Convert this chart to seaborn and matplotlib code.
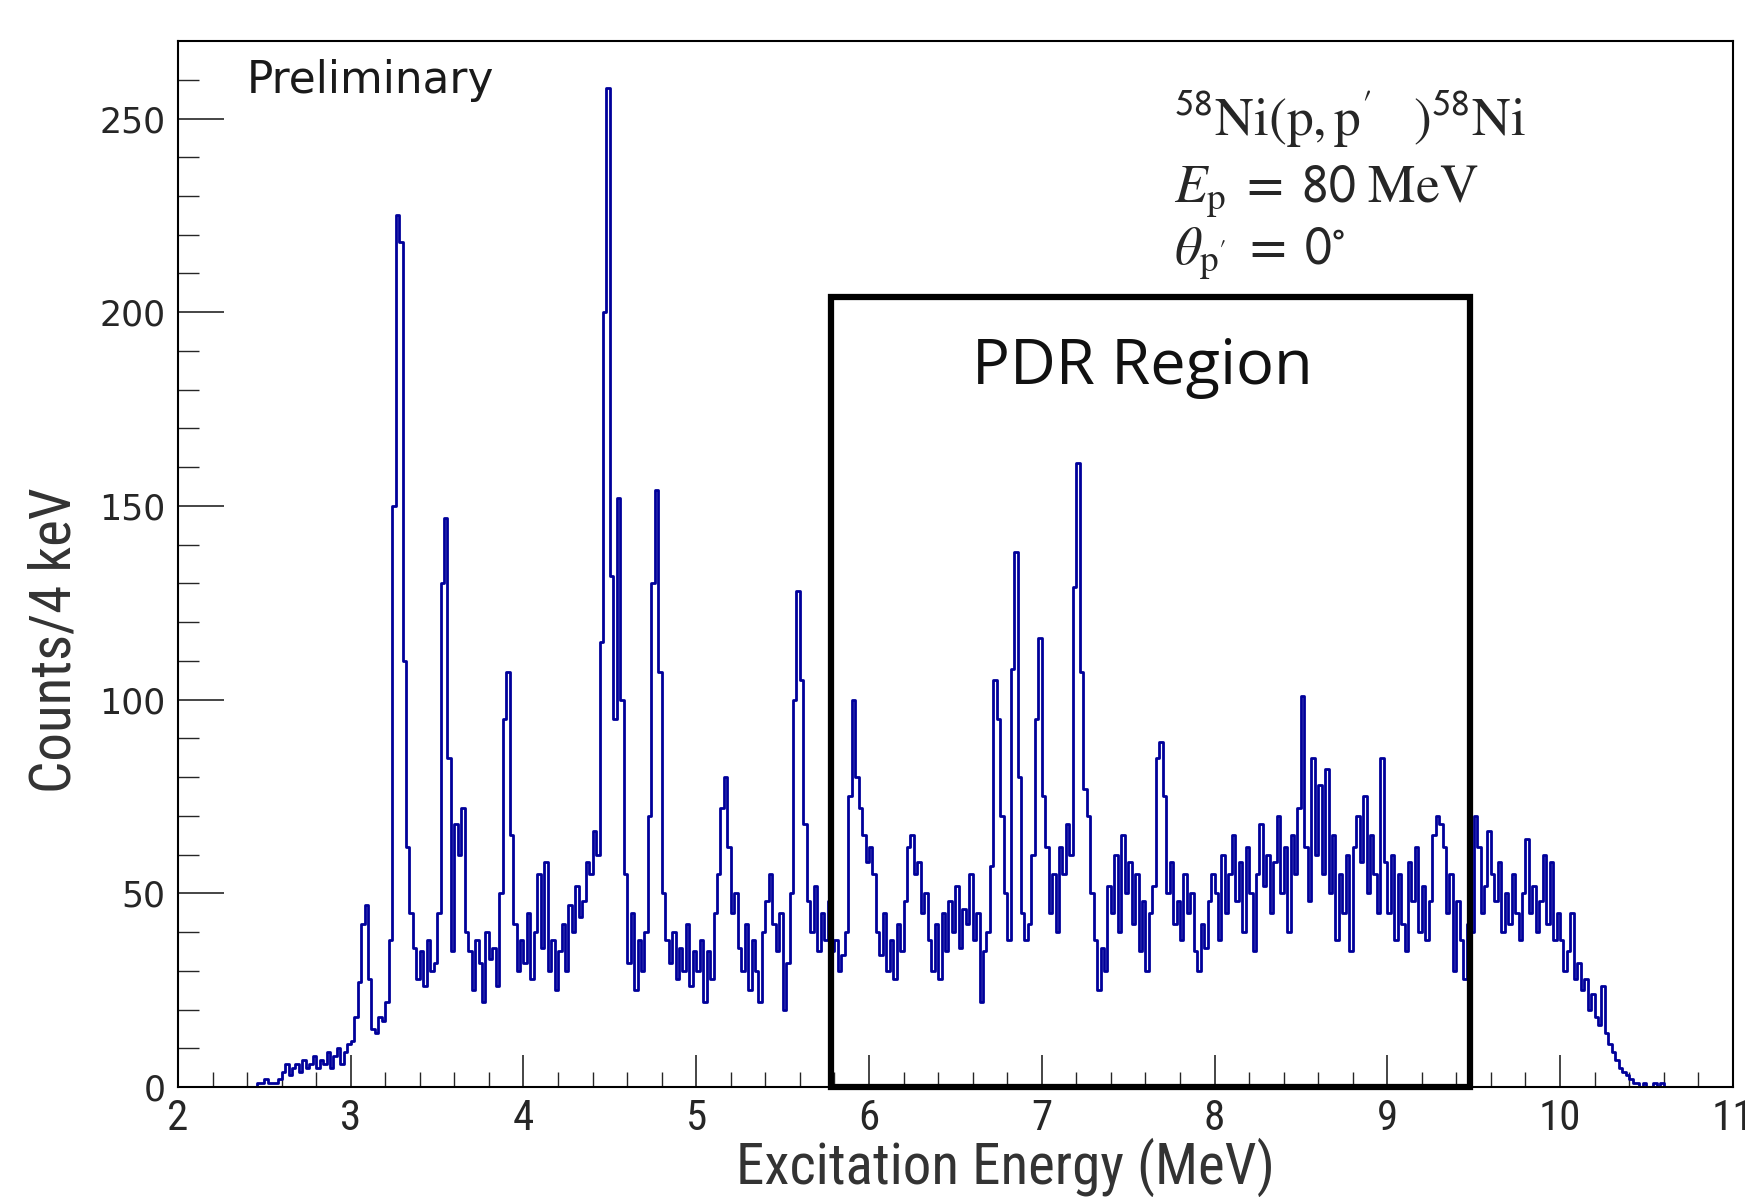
import numpy as np
import pandas as pd
import matplotlib
matplotlib.use("Agg")
import matplotlib.pyplot as plt
import seaborn as sns
from matplotlib import font_manager
from matplotlib.patches import Rectangle

# ---------------- data (counts per bin, 20 keV wide bins from 2.00 MeV) ----------------
counts_2 = [0]*22 + [0, 1, 1, 2, 1, 1, 1, 2,
            4, 6, 3, 5, 6, 4, 7, 5, 6, 8, 5, 7, 6, 9, 5, 8, 10, 6, 9, 11]
counts_3 = [12, 18, 27, 42, 47, 28, 15, 14, 18, 17,
            22, 38, 150, 225, 218, 110, 62, 45, 36, 28,
            35, 26, 38, 30, 32, 45, 130, 147, 85, 35,
            68, 60, 72, 40, 35, 25, 38, 32, 22, 40,
            33, 36, 26, 50, 95, 107, 65, 42, 30, 38]
counts_4 = [32, 45, 28, 40, 55, 36, 58, 30, 38, 25,
            35, 42, 30, 47, 40, 52, 44, 48, 58, 55,
            66, 60, 115, 200, 258, 132, 95, 152, 100, 55,
            32, 45, 25, 38, 30, 40, 70, 130, 154, 107,
            50, 38, 32, 40, 28, 36, 30, 42, 26, 35]
counts_5 = [30, 38, 22, 35, 28, 45, 55, 72, 80, 62,
            45, 50, 36, 30, 42, 25, 38, 30, 22, 40,
            48, 55, 42, 35, 45, 20, 32, 50, 100, 128,
            105, 68, 48, 40, 52, 35, 45, 38, 48, 35,
            38, 30, 34, 40, 75, 100, 80, 72, 65, 58]
counts_6 = [62, 55, 40, 34, 45, 30, 38, 28, 42, 35,
            48, 62, 65, 55, 58, 45, 50, 38, 30, 42,
            28, 45, 35, 48, 40, 52, 36, 46, 42, 55,
            38, 45, 22, 35, 40, 57, 105, 95, 70, 50,
            38, 108, 138, 80, 45, 38, 42, 60, 95, 116]
counts_7 = [75, 62, 45, 55, 40, 62, 55, 68, 60, 129,
            161, 107, 77, 70, 50, 38, 25, 36, 30, 52,
            45, 60, 40, 65, 50, 58, 42, 55, 35, 48,
            30, 45, 52, 85, 89, 75, 50, 58, 42, 48,
            38, 55, 45, 50, 35, 30, 42, 36, 48, 55]
counts_8 = [50, 38, 60, 45, 55, 65, 48, 58, 40, 62,
            50, 35, 55, 68, 52, 60, 45, 58, 70, 50,
            62, 40, 65, 55, 72, 101, 62, 48, 85, 60,
            78, 55, 82, 50, 65, 38, 55, 45, 60, 35,
            62, 70, 58, 75, 50, 65, 55, 45, 85, 58]
counts_9 = [45, 60, 38, 55, 42, 35, 58, 48, 62, 40,
            52, 38, 48, 65, 70, 68, 62, 45, 55, 30,
            48, 38, 28, 42, 40, 70, 62, 45, 52, 66,
            55, 48, 58, 40, 50, 42, 55, 45, 38, 50,
            64, 45, 52, 40, 48, 60, 42, 58, 38, 45]
counts_10 = [38, 30, 35, 45, 28, 32, 25, 28, 20, 24,
             18, 16, 26, 14, 11, 9, 7, 5, 4, 3,
             2, 1, 1, 0, 1, 0, 0, 1, 0, 1] + [0]*20

x_ticks = [2, 3, 4, 5, 6, 7, 8, 9, 10, 11]
y_ticks = [0, 50, 100, 150, 200, 250]
pdr_region = [5.78, 9.48]   # MeV
pdr_height = 204            # counts

x_label = "Excitation Energy (MeV)"
y_label = "Counts/4 keV"

# ---------------- build table ----------------
counts = np.array(counts_2 + counts_3 + counts_4 + counts_5 + counts_6 +
                  counts_7 + counts_8 + counts_9 + counts_10, dtype=float)
bin_w = 0.02
centers = 2.0 + bin_w * (np.arange(len(counts)) + 0.5)
df = pd.DataFrame({"energy": centers, "counts": counts})

# ---------------- fonts ----------------
avail = {f.name for f in font_manager.fontManager.ttflist}
narrow = None
for cand in ["Liberation Sans Narrow", "DejaVu Sans Condensed", "Roboto Condensed",
             "Open Sans Condensed"]:
    if cand in avail:
        narrow = cand
        break

sns.set_theme(style="white")
plt.rcParams["font.family"] = ["DejaVu Sans"]
plt.rcParams["mathtext.fontset"] = "stix"

fig = plt.figure(figsize=(17.45, 11.97), dpi=100)
ax = fig.add_axes([0.102, 0.0919, 0.891, 0.8738])

sns.histplot(data=df, x="energy", weights="counts", binwidth=bin_w, binrange=(2.0, 11.0),
             element="step", fill=False, color="#00009a", linewidth=2.0, ax=ax)

ax.set_xlim(2, 11)
ax.set_ylim(0, 270)

# PDR box
ax.add_patch(Rectangle((pdr_region[0], 0), pdr_region[1] - pdr_region[0], pdr_height,
                       fill=False, edgecolor="black", linewidth=4.5, clip_on=False, zorder=5))
ax.text((pdr_region[0] + pdr_region[1]) / 2 - 0.05, 0.672, "PDR Region",
        transform=ax.get_xaxis_transform(), ha="center", va="baseline",
        fontsize=45.5, family=["Open Sans", "DejaVu Sans"], color="#111111")

# texts
ax.text(0.044, 0.983, "Preliminary", transform=ax.transAxes, ha="left", va="top",
        fontsize=31.5, family=["DejaVu Sans"], color="#1a1a1a")
ax.text(0.6405, 0.909, r"$^{\mathsf{58}}\mathrm{Ni(p,p^{\prime}\ \ \ )^{\mathsf{58}}Ni}$",
        transform=ax.transAxes, ha="left", va="baseline", fontsize=38.5)
ax.text(0.6405, 0.846, r"$E_{\mathrm{p}}\;=\;\mathsf{80}\ \mathrm{MeV}$",
        transform=ax.transAxes, ha="left", va="baseline", fontsize=38.5)
ax.text(0.6405, 0.787, r"$\theta_{\mathrm{p}^{\prime}}\;=\;\mathsf{0}^{\circ}$",
        transform=ax.transAxes, ha="left", va="baseline", fontsize=38.5)

# axes styling (ROOT-like)
for s in ax.spines.values():
    s.set_visible(True)
    s.set_color("black")
    s.set_linewidth(1.5)

ax.set_xticks(x_ticks)
ax.set_yticks(y_ticks)
ax.set_xticks(np.arange(2, 11.01, 0.2), minor=True)
ax.set_yticks(np.arange(0, 270, 10), minor=True)
ax.tick_params(axis="x", which="major", direction="in", length=23, width=1.2,
               pad=8, labelsize=26, bottom=True, top=False)
ax.tick_params(axis="x", which="minor", direction="in", length=11, width=1.0,
               bottom=True, top=False)
ax.tick_params(axis="y", which="major", direction="in", length=33, width=1.2,
               pad=9, labelsize=25, left=True, right=False)
ax.tick_params(axis="y", which="minor", direction="in", length=15, width=1.0,
               left=True, right=False)
for lab in ax.get_xticklabels():
    if narrow:
        lab.set_family([narrow, "DejaVu Sans"])
        lab.set_fontsize(31)
    else:
        lab.set_fontstretch("condensed")

lab_fam = [narrow, "DejaVu Sans"] if narrow else ["DejaVu Sans"]
lab_size = 41 if narrow else 32
ax.set_xlabel(x_label, fontsize=lab_size, family=lab_fam, color="#333333")
ax.set_ylabel(y_label, fontsize=lab_size, family=lab_fam, color="#333333")
ax.xaxis.set_label_coords(0.532, -0.077)
ax.xaxis.label.set_va("center")
ax.yaxis.set_label_coords(-0.079, 0.427)
ax.yaxis.label.set_va("center")

fig.savefig("out.png", dpi=100)
